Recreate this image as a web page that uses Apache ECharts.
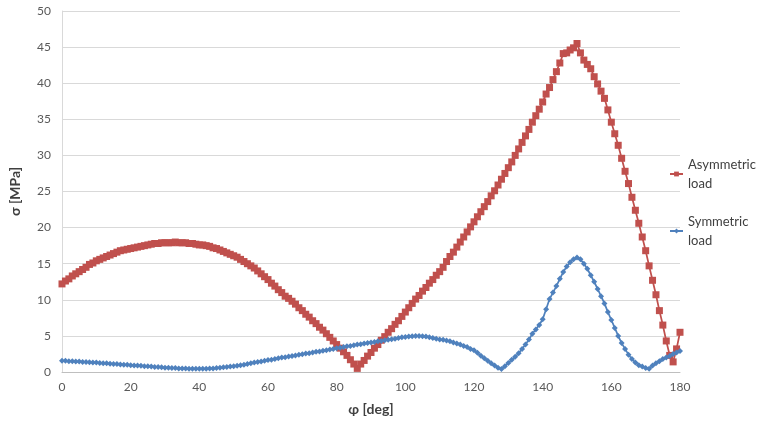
<!DOCTYPE html>
<html>
<head>
<meta charset="utf-8">
<script src="https://cdn.jsdelivr.net/npm/echarts@6/dist/echarts.min.js"></script>
<style>
html,body{margin:0;padding:0;background:#fff;}
#chart{width:757px;height:423px;}
</style>
</head>
<body>
<div id="chart"></div>
<script>
// angle φ in degrees, 1-degree steps 0..180
const phi = Array.from({length: 181}, (_, i) => i);

const xTicks = [0, 20, 40, 60, 80, 100, 120, 140, 160, 180];
const yTicks = [0, 5, 10, 15, 20, 25, 30, 35, 40, 45, 50];

// Asymmetric load, σ [MPa]
const asymmetric = [
  12.2, 12.6, 12.9, 13.3, 13.6, 13.9, 14.2, 14.5, 14.9, 15.1,
  15.4, 15.6, 15.8, 16.0, 16.2, 16.4, 16.6, 16.8, 16.9, 17.0,
  17.1, 17.2, 17.3, 17.4, 17.5, 17.6, 17.7, 17.8, 17.8, 17.9,
  17.9, 17.9, 17.9, 18.0, 17.9, 17.9, 17.9, 17.8, 17.8, 17.7,
  17.6, 17.6, 17.5, 17.4, 17.2, 17.1, 16.9, 16.7, 16.5, 16.3,
  16.1, 15.9, 15.6, 15.3, 15.0, 14.7, 14.4, 14.0, 13.6, 13.2,
  12.8, 12.3, 11.9, 11.4, 11.0, 10.5, 10.2, 9.8, 9.4, 8.9,
  8.5, 8.0, 7.6, 7.1, 6.7, 6.2, 5.8, 5.3, 4.8, 4.3,
  3.8, 3.3, 2.8, 2.3, 1.7, 1.1, 0.5, 1.1, 1.6, 2.2,
  2.7, 3.3, 3.8, 4.4, 4.9, 5.5, 6.0, 6.6, 7.1, 7.7,
  8.3, 8.9, 9.5, 10.1, 10.6, 11.2, 11.7, 12.3, 12.8, 13.4,
  13.9, 14.5, 15.3, 16.0, 16.6, 17.3, 18.0, 18.7, 19.4, 20.1,
  20.8, 21.5, 22.2, 22.9, 23.6, 24.4, 25.1, 25.9, 26.7, 27.5,
  28.3, 29.1, 30.0, 30.9, 31.8, 32.7, 33.6, 34.6, 35.5, 36.4,
  37.4, 38.5, 39.4, 40.5, 41.6, 42.8, 44.1, 44.2, 44.6, 44.9,
  45.5, 44.2, 43.2, 42.6, 42.0, 40.9, 39.9, 38.9, 37.9, 36.3,
  34.6, 33.0, 31.4, 29.6, 27.8, 26.1, 24.2, 22.4, 20.6, 18.7,
  16.8, 14.7, 12.7, 10.7, 8.5, 6.5, 4.3, 2.3, 1.4, 3.2,
  5.5
];

// Symmetric load, σ [MPa]
const symmetric = [
  1.55, 1.55, 1.5, 1.5, 1.45, 1.45, 1.4, 1.4, 1.35, 1.3,
  1.3, 1.25, 1.2, 1.2, 1.15, 1.1, 1.1, 1.05, 1.0, 1.0,
  0.95, 0.9, 0.9, 0.85, 0.8, 0.8, 0.75, 0.7, 0.7, 0.65,
  0.6, 0.6, 0.55, 0.55, 0.5, 0.5, 0.5, 0.45, 0.45, 0.45,
  0.45, 0.45, 0.45, 0.5, 0.5, 0.55, 0.6, 0.65, 0.7, 0.75,
  0.8, 0.85, 0.95, 1.0, 1.1, 1.2, 1.3, 1.4, 1.45, 1.55,
  1.65, 1.7, 1.8, 1.9, 2.0, 2.05, 2.15, 2.2, 2.3, 2.4,
  2.45, 2.55, 2.6, 2.7, 2.8, 2.85, 2.95, 3.0, 3.1, 3.2,
  3.3, 3.35, 3.45, 3.55, 3.6, 3.7, 3.8, 3.85, 3.95, 4.0,
  4.1, 4.15, 4.25, 4.3, 4.4, 4.45, 4.55, 4.6, 4.7, 4.8,
  4.85, 4.9, 4.95, 5.0, 5.0, 4.95, 4.9, 4.8, 4.7, 4.6,
  4.5, 4.45, 4.35, 4.25, 4.1, 3.95, 3.8, 3.6, 3.45, 3.2,
  3.0, 2.65, 2.25, 1.9, 1.55, 1.2, 0.9, 0.6, 0.4, 0.8,
  1.25, 1.7, 2.1, 2.6, 3.2, 3.8, 4.5, 5.3, 5.9, 6.5,
  7.3, 8.7, 10.1, 11.0, 11.9, 12.9, 13.85, 14.6, 15.2, 15.6,
  15.85, 15.6, 15.0, 14.3, 13.4, 12.5, 11.5, 10.5, 9.5, 8.3,
  7.2, 6.1, 5.0, 4.0, 3.2, 2.4, 1.8, 1.3, 0.95, 0.75,
  0.55, 0.45, 0.9, 1.2, 1.5, 1.8, 2.0, 2.2, 2.5, 2.7,
  2.9
];

const seriesNames = ['Asymmetric\nload', 'Symmetric\nload'];
const FONT = "Lato, 'Noto Sans', 'DejaVu Sans', sans-serif";

const chart = echarts.init(document.getElementById('chart'), null, {renderer: 'canvas'});
chart.setOption({
  animation: false,
  backgroundColor: '#ffffff',
  textStyle: {fontFamily: FONT},
  grid: {left: 62, right: 77, top: 11, bottom: 51, containLabel: false},
  legend: {
    orient: 'vertical',
    left: 669,
    top: 155,
    padding: 0,
    itemWidth: 13,
    itemHeight: 6,
    itemGap: 19,
    textStyle: {fontFamily: FONT, fontSize: 13, color: '#404040', lineHeight: 19},
    data: seriesNames
  },
  xAxis: {
    type: 'value',
    min: xTicks[0],
    max: xTicks[xTicks.length - 1],
    interval: 20,
    name: 'φ [deg]',
    nameLocation: 'middle',
    nameGap: 30,
    nameTextStyle: {fontFamily: FONT, fontSize: 14, fontWeight: 'bold', color: '#404040'},
    axisLine: {show: true, lineStyle: {color: '#bfbfbf', width: 1}},
    axisTick: {show: false},
    splitLine: {show: false},
    axisLabel: {fontFamily: FONT, fontSize: 12, color: '#595959', margin: 9}
  },
  yAxis: {
    type: 'value',
    min: yTicks[0],
    max: yTicks[yTicks.length - 1],
    interval: 5,
    name: 'σ [MPa]',
    nameLocation: 'middle',
    nameGap: 40,
    nameRotate: 90,
    nameTextStyle: {fontFamily: FONT, fontSize: 14, fontWeight: 'bold', color: '#404040'},
    axisLine: {show: true, lineStyle: {color: '#d9d9d9', width: 1}},
    axisTick: {show: false},
    splitLine: {show: true, lineStyle: {color: '#d9d9d9', width: 1}},
    axisLabel: {fontFamily: FONT, fontSize: 12, color: '#595959', margin: 11}
  },
  series: [
    {
      name: seriesNames[0],
      type: 'line',
      data: phi.map((p, i) => [p, asymmetric[i]]),
      symbol: 'rect',
      symbolSize: 7,
      showAllSymbol: true,
      lineStyle: {color: '#C0504D', width: 1.75},
      itemStyle: {color: '#C0504D', borderColor: '#C0504D', borderWidth: 0},
      z: 2
    },
    {
      name: seriesNames[1],
      type: 'line',
      data: phi.map((p, i) => [p, symmetric[i]]),
      symbol: 'diamond',
      symbolSize: 6,
      showAllSymbol: true,
      lineStyle: {color: '#4F81BD', width: 1.75},
      itemStyle: {color: '#4F81BD', borderColor: '#4F81BD', borderWidth: 0},
      z: 3
    }
  ]
});
</script>
</body>
</html>
